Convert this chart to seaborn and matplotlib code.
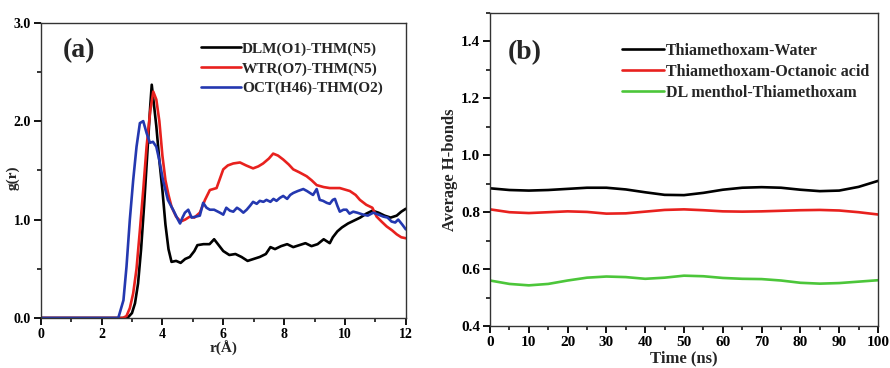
import numpy as np
import pandas as pd
import matplotlib
matplotlib.use("Agg")
import matplotlib.pyplot as plt
import seaborn as sns
from matplotlib.ticker import MultipleLocator

sns.set_theme(style="ticks")
plt.rcParams['font.family'] = ['Liberation Serif', 'DejaVu Serif']
plt.rcParams['font.weight'] = 'bold'
plt.rcParams.update({
    'xtick.direction': 'out', 'ytick.direction': 'out',
    'xtick.major.size': 5, 'ytick.major.size': 5,
    'xtick.minor.size': 3, 'ytick.minor.size': 3,
    'xtick.major.width': 1.3, 'ytick.major.width': 1.3,
    'xtick.minor.width': 1.1, 'ytick.minor.width': 1.1,
    'xtick.color': '#000000', 'ytick.color': '#000000',
    'xtick.bottom': True, 'ytick.left': True,
})

# ---------------- Panel (a): RDF data ----------------
r_dlm = [0, 2.85, 3.0, 3.1, 3.2, 3.3, 3.4, 3.5, 3.6, 3.65, 3.8, 3.9, 4.0, 4.1, 4.2, 4.3,
         4.45, 4.6, 4.75, 4.9, 5.05, 5.15, 5.35, 5.55, 5.7, 5.85, 6.0, 6.2, 6.4, 6.6,
         6.8, 7.0, 7.2, 7.4, 7.55, 7.7, 7.9, 8.1, 8.3, 8.5, 8.7, 8.9, 9.1, 9.3, 9.5,
         9.6, 9.75, 9.9, 10.1, 10.3, 10.5, 10.7, 10.9, 11.1, 11.3, 11.5, 11.7, 11.85, 12.0]
g_dlm = [0, 0, 0.05, 0.15, 0.35, 0.7, 1.15, 1.65, 2.15, 2.37, 1.95, 1.6, 1.3, 0.95, 0.7, 0.57,
         0.58, 0.56, 0.6, 0.62, 0.68, 0.74, 0.75, 0.75, 0.8, 0.74, 0.68, 0.64, 0.65, 0.62,
         0.58, 0.6, 0.62, 0.65, 0.72, 0.7, 0.73, 0.75, 0.72, 0.74, 0.76, 0.73, 0.75, 0.8, 0.76,
         0.82, 0.88, 0.92, 0.96, 0.99, 1.02, 1.06, 1.09, 1.07, 1.04, 1.02, 1.04, 1.08, 1.11]

r_wtr = [0, 2.7, 2.82, 2.93, 3.04, 3.15, 3.26, 3.37, 3.48, 3.6, 3.7, 3.8, 3.9, 4.0, 4.1,
         4.2, 4.3, 4.45, 4.6, 4.75, 4.9, 5.05, 5.23, 5.4, 5.56, 5.78, 6.0, 6.15, 6.33,
         6.55, 6.75, 6.98, 7.15, 7.31, 7.5, 7.64, 7.8, 7.97, 8.15, 8.3, 8.5, 8.74, 8.9,
         9.07, 9.3, 9.5, 9.83, 10.16, 10.35, 10.49, 10.7, 10.9, 11.04, 11.2, 11.37, 11.55,
         11.7, 11.85, 12.0]
g_wtr = [0, 0, 0.02, 0.1, 0.25, 0.5, 0.89, 1.3, 1.74, 2.1, 2.3, 2.22, 2.0, 1.65, 1.4,
         1.25, 1.13, 1.03, 0.98, 1.0, 1.03, 1.02, 1.07, 1.2, 1.3, 1.32, 1.51, 1.55, 1.57,
         1.58, 1.55, 1.52, 1.54, 1.57, 1.62, 1.67, 1.65, 1.61, 1.56, 1.51, 1.48, 1.44, 1.4,
         1.35, 1.33, 1.32, 1.32, 1.29, 1.25, 1.2, 1.15, 1.12, 1.03, 0.98, 0.93, 0.89,
         0.85, 0.82, 0.81]

r_oct = [0, 2.55, 2.72, 2.82, 2.93, 3.04, 3.15, 3.26, 3.37, 3.48, 3.59, 3.69, 3.8, 3.9,
         4.02, 4.18, 4.35, 4.51, 4.58, 4.66, 4.74, 4.85, 4.96, 5.1, 5.23, 5.34, 5.45, 5.56,
         5.7, 5.89, 6.0, 6.1, 6.22, 6.33, 6.45, 6.55, 6.66, 6.77, 6.88, 6.98, 7.1, 7.2,
         7.32, 7.42, 7.55, 7.65, 7.75, 7.86, 7.97, 8.1, 8.2, 8.3, 8.45, 8.63, 8.75, 8.85,
         8.95, 9.07, 9.17, 9.28, 9.4, 9.5, 9.6, 9.67, 9.75, 9.83, 9.95, 10.05, 10.15, 10.27,
         10.4, 10.6, 10.75, 10.93, 11.1, 11.26, 11.4, 11.53, 11.65, 11.75, 11.88, 12.0]
g_oct = [0, 0, 0.18, 0.52, 1.0, 1.4, 1.74, 1.98, 2.0, 1.88, 1.78, 1.79, 1.74, 1.6,
         1.4, 1.2, 1.1, 1.0, 0.96, 1.02, 1.07, 1.1, 1.02, 1.03, 1.04, 1.17, 1.12, 1.1,
         1.1, 1.07, 1.05, 1.12, 1.09, 1.08, 1.12, 1.1, 1.07, 1.1, 1.14, 1.18, 1.16, 1.19,
         1.18, 1.2, 1.18, 1.21, 1.19, 1.22, 1.24, 1.21, 1.25, 1.27, 1.29, 1.31, 1.29, 1.27,
         1.25, 1.31, 1.2, 1.19, 1.17, 1.16, 1.2, 1.21, 1.14, 1.08, 1.1, 1.1, 1.06, 1.08,
         1.07, 1.05, 1.04, 1.07, 1.05, 1.03, 1.02, 0.98, 0.97, 1.0, 0.95, 0.9]

# ---------------- Panel (b): H-bond data ----------------
t_ns = [0, 5, 10, 15, 20, 25, 30, 35, 40, 45, 50, 55, 60, 65, 70, 75, 80, 85, 90, 95, 100]
hb_water = [0.884, 0.878, 0.876, 0.878, 0.882, 0.886, 0.886, 0.880, 0.870, 0.861, 0.860,
            0.868, 0.879, 0.886, 0.888, 0.886, 0.879, 0.874, 0.876, 0.889, 0.910]
hb_oct = [0.810, 0.800, 0.797, 0.800, 0.803, 0.801, 0.795, 0.796, 0.802, 0.808, 0.810,
          0.807, 0.803, 0.802, 0.803, 0.805, 0.807, 0.808, 0.806, 0.800, 0.792]
hb_dlm = [0.560, 0.548, 0.543, 0.548, 0.560, 0.570, 0.574, 0.572, 0.566, 0.570, 0.577,
          0.575, 0.569, 0.566, 0.565, 0.560, 0.552, 0.549, 0.551, 0.556, 0.561]

labels_a = ["DLM(O1)-THM(N5)", "WTR(O7)-THM(N5)", "OCT(H46)-THM(O2)"]
labels_b = ["Thiamethoxam-Water", "Thiamethoxam-Octanoic acid", "DL menthol-Thiamethoxam"]
xticks_a = [0, 2, 4, 6, 8, 10, 12]
yticks_a = [0.0, 1.0, 2.0, 3.0]
xticks_b = [0, 10, 20, 30, 40, 50, 60, 70, 80, 90, 100]
yticks_b = [0.4, 0.6, 0.8, 1.0, 1.2, 1.4]

c_black = "#000000"
c_red = "#e8211e"
c_blue = "#2438b0"
c_green = "#4cc63a"

fig = plt.figure(figsize=(8.9, 3.68), dpi=100)
axa = fig.add_axes([0.0457, 0.1359, 0.4103, 0.8024])
axb = fig.add_axes([0.5506, 0.114, 0.4359, 0.8507])

lw = 1.9
sns.lineplot(x=r_dlm, y=g_dlm, ax=axa, color=c_black, lw=lw, label=labels_a[0], sort=False)
sns.lineplot(x=r_wtr, y=g_wtr, ax=axa, color=c_red, lw=lw, label=labels_a[1], sort=False)
sns.lineplot(x=r_oct, y=g_oct, ax=axa, color=c_blue, lw=lw, label=labels_a[2], sort=False)

sns.lineplot(x=t_ns, y=hb_water, ax=axb, color=c_black, lw=lw, label=labels_b[0])
sns.lineplot(x=t_ns, y=hb_oct, ax=axb, color=c_red, lw=lw, label=labels_b[1])
sns.lineplot(x=t_ns, y=hb_dlm, ax=axb, color=c_green, lw=lw, label=labels_b[2])

axa.set_xlim(0, 12)
axa.set_ylim(0, 3.0)
axa.set_xticks(xticks_a)
axa.set_xticklabels([f"{v:d}" for v in xticks_a], fontweight='bold', fontsize=10)
axa.xaxis.set_minor_locator(MultipleLocator(1))
axa.set_yticks(yticks_a)
axa.set_yticklabels([f"{v:.1f}" for v in yticks_a], fontweight='bold', fontsize=10)
axa.yaxis.set_minor_locator(MultipleLocator(0.5))
axa.set_xlabel("r(Å)", fontsize=11, fontweight='bold', labelpad=0)
axa.set_ylabel("g(r)", fontsize=11, fontweight='bold')
axa.yaxis.set_label_coords(-0.058, 0.475)
axa.text(0.06, 0.905, "(a)", transform=axa.transAxes, fontsize=20, fontweight='bold',
         va='center', ha='left')

axb.set_xlim(0, 100)
axb.set_ylim(0.4, 1.5)
axb.set_xticks(xticks_b)
axb.set_xticklabels([f"{v:d}" for v in xticks_b], fontweight='bold', fontsize=11)
axb.xaxis.set_minor_locator(MultipleLocator(5))
axb.set_yticks(yticks_b)
axb.set_yticklabels([f"{v:.1f}" for v in yticks_b], fontweight='bold', fontsize=11)
axb.yaxis.set_minor_locator(MultipleLocator(0.1))
axb.set_xlabel("Time (ns)", fontsize=12, fontweight='bold', labelpad=1)
axb.set_ylabel("Average H-bonds", fontsize=12, fontweight='bold', labelpad=2)
axb.text(0.045, 0.875, "(b)", transform=axb.transAxes, fontsize=20, fontweight='bold',
         va='center', ha='left')

for ax in (axa, axb):
    for s in ax.spines.values():
        s.set_visible(True)
        s.set_color("#333333")
        s.set_linewidth(1.0)
    ax.tick_params(which='both', direction='out', bottom=True, left=True, top=False,
                   right=False, color="#000000", pad=2)
    ax.tick_params(which='major', length=5, width=1.3)
    ax.tick_params(which='minor', length=3, width=1.1)

lega = axa.legend(loc='upper right', bbox_to_anchor=(0.937, 0.935), frameon=False,
                  prop=dict(family='Liberation Serif', weight='bold', size=11),
                  handlelength=2.6, handletextpad=0.1, labelspacing=0.39, borderpad=0.0,
                  borderaxespad=0.0)
legb = axb.legend(loc='upper right', bbox_to_anchor=(0.978, 0.905), frameon=False,
                  prop=dict(family='Liberation Serif', weight='bold', size=11.5),
                  handlelength=2.6, handletextpad=0.15, labelspacing=0.31, borderpad=0.0,
                  borderaxespad=0.0)

fig.savefig("out.png", dpi=100)
